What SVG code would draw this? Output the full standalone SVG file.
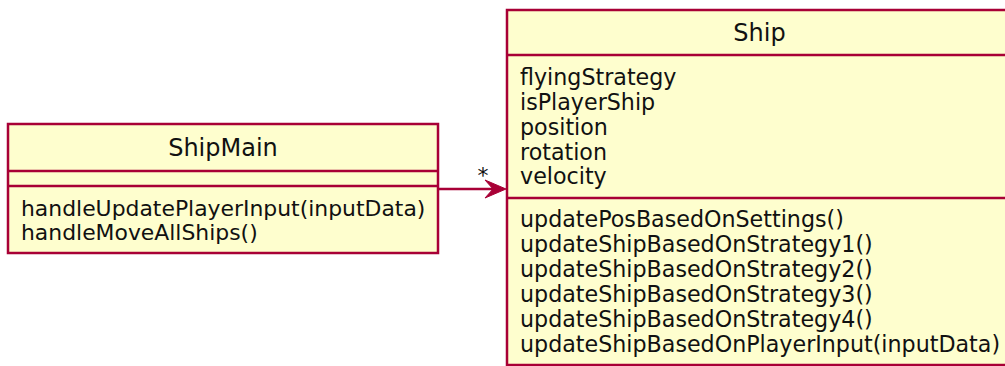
<svg xmlns="http://www.w3.org/2000/svg" width="1005" height="366" viewBox="0 0 1005 366">
  <style>
    .box { fill: #FEFECE; stroke: #A80036; stroke-width: 2.5; }
    .sep { stroke: #A80036; stroke-width: 2.5; fill: none; }
    .title { font-family: "DejaVu Sans", sans-serif; font-size: 24px; fill: #111; text-anchor: middle; }
    .member { font-family: "DejaVu Sans", sans-serif; font-size: 21.9px; fill: #111; }
    .wide { font-size: 22.2px; }
    .edge { stroke: #A80036; stroke-width: 2.5; fill: none; }
    .head { fill: #A80036; stroke: #A80036; stroke-width: 1; }
  </style>
  <rect x="0" y="0" width="1005" height="366" fill="#FFFFFF"/>
  <g id="ShipMain">
    <rect class="box" x="8" y="124" width="430" height="129"/>
    <text class="title" x="223" y="156">ShipMain</text>
    <line class="sep" x1="8" y1="171" x2="438" y2="171"/>
    <line class="sep" x1="8" y1="186" x2="438" y2="186"/>
    <text class="member" x="21" y="216">handleUpdatePlayerInput(inputData)</text>
    <text class="member" x="21" y="240">handleMoveAllShips()</text>
  </g>
  <g id="Ship">
    <rect class="box" x="507" y="10" width="505" height="355"/>
    <text class="title" x="759.5" y="41">Ship</text>
    <line class="sep" x1="507" y1="55" x2="1012" y2="55"/>
    <text class="member wide" x="520" y="85">flyingStrategy</text>
    <text class="member wide" x="520" y="110">isPlayerShip</text>
    <text class="member wide" x="520" y="135">position</text>
    <text class="member wide" x="520" y="160">rotation</text>
    <text class="member wide" x="520" y="184">velocity</text>
    <line class="sep" x1="507" y1="198" x2="1012" y2="198"/>
    <text class="member wide" x="520" y="227">updatePosBasedOnSettings()</text>
    <text class="member wide" x="520" y="252">updateShipBasedOnStrategy1()</text>
    <text class="member wide" x="520" y="277">updateShipBasedOnStrategy2()</text>
    <text class="member wide" x="520" y="302">updateShipBasedOnStrategy3()</text>
    <text class="member wide" x="520" y="327">updateShipBasedOnStrategy4()</text>
    <text class="member wide" x="520" y="352">updateShipBasedOnPlayerInput(inputData)</text>
  </g>
  <g id="connectors">
    <line class="edge" x1="438" y1="189" x2="500" y2="189"/>
    <polygon class="head" points="506,189 485,180 493,189 485,198"/>
    <text class="member" x="483" y="183" text-anchor="middle">*</text>
  </g>
</svg>
